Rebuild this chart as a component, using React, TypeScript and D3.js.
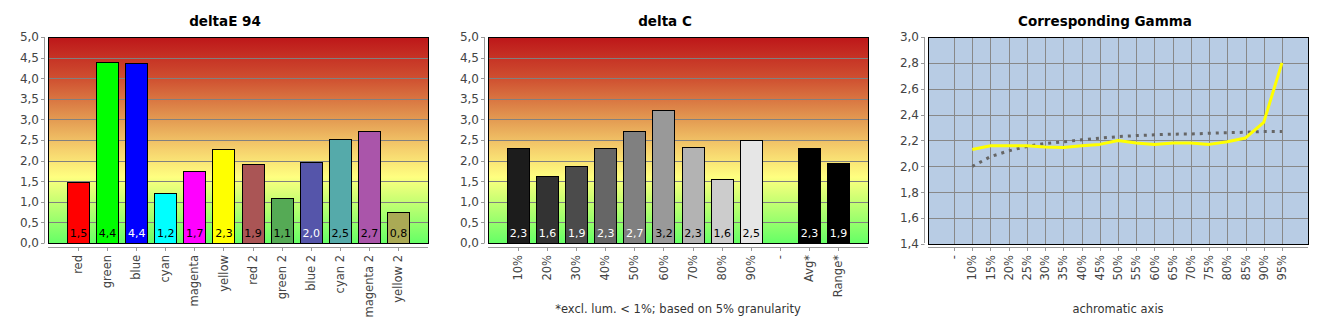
import React from "react";
import * as d3 from "d3";

// ---------- data ----------
const deCategories = ["red", "green", "blue", "cyan", "magenta", "yellow", "red 2", "green 2", "blue 2", "cyan 2", "magenta 2", "yellow 2"];
const deValues = [1.47, 4.39, 4.36, 1.21, 1.74, 2.29, 1.91, 1.09, 1.97, 2.53, 2.71, 0.76];
const deColors = ["#ff0000", "#00ff00", "#0000ff", "#00ffff", "#ff00ff", "#ffff00", "#aa5555", "#55aa55", "#5555aa", "#55aaaa", "#aa55aa", "#aaaa55"];
const deLabelColors = ["#000", "#000", "#fff", "#000", "#000", "#000", "#000", "#000", "#fff", "#000", "#000", "#000"];

const dcCategories = ["10%", "20%", "30%", "40%", "50%", "60%", "70%", "80%", "90%", "-", "Avg*", "Range*"];
const dcValues: (number | null)[] = [2.3, 1.63, 1.86, 2.3, 2.71, 3.24, 2.32, 1.56, 2.49, null, 2.3, 1.94];
const dcColors = ["#1c1c1c", "#333333", "#4b4b4b", "#666666", "#808080", "#999999", "#b3b3b3", "#cccccc", "#e6e6e6", "#000", "#000000", "#000000"];
const dcLabelColors = ["#fff", "#fff", "#fff", "#fff", "#fff", "#000", "#000", "#000", "#000", "#000", "#fff", "#fff"];

const gammaCategories = ["-", "10%", "15%", "20%", "25%", "30%", "35%", "40%", "45%", "50%", "55%", "60%", "65%", "70%", "75%", "80%", "85%", "90%", "95%"];
const gammaMeasured: (number | null)[] = [null, 2.13, 2.16, 2.16, 2.16, 2.15, 2.145, 2.16, 2.17, 2.2, 2.18, 2.17, 2.18, 2.18, 2.17, 2.19, 2.22, 2.34, 2.8];
const gammaReference: (number | null)[] = [null, 2.0, 2.075, 2.12, 2.154, 2.177, 2.19, 2.205, 2.218, 2.23, 2.238, 2.244, 2.249, 2.25, 2.256, 2.26, 2.264, 2.27, 2.27];

const barTicks = [0, 0.5, 1, 1.5, 2, 2.5, 3, 3.5, 4, 4.5, 5];
const gammaTicks = [1.4, 1.6, 1.8, 2.0, 2.2, 2.4, 2.6, 2.8, 3.0];

// ---------- layout ----------
const W = 1330;
const H = 330;
const PL = 48;
const PR = 428;
const PT = 37;
const PB = 243;
const FONT = "'DejaVu Sans', Verdana, sans-serif";
const fmt = (v: number, d: number) => v.toFixed(d).replace(".", ",");

function YAxis({ y, ticks }: { y: d3.ScaleLinear<number, number>; ticks: number[] }) {
  return (
    <g>
      <line x1={44.5} x2={44.5} y1={PT} y2={PB} stroke="#999" />
      {ticks.map((t) => (
        <g key={t}>
          <line x1={41} x2={44.5} y1={Math.round(y(t)) + 0.5} y2={Math.round(y(t)) + 0.5} stroke="#999" />
          <text x={39} y={y(t)} dy="0.36em" textAnchor="end" fontSize={12} fill="#444" fontFamily={FONT}>
            {fmt(t, 1)}
          </text>
        </g>
      ))}
    </g>
  );
}

function XAxis({ x, cats }: { x: d3.ScalePoint<string>; cats: string[] }) {
  return (
    <g>
      <line x1={PL} x2={PR} y1={247.5} y2={247.5} stroke="#999" />
      {cats.map((c) => (
        <g key={c}>
          <line x1={Math.round(x(c)!) + 0.5} x2={Math.round(x(c)!) + 0.5} y1={247.5} y2={251} stroke="#999" />
          <text
            transform={`translate(${x(c)},255) rotate(-90)`}
            dy="0.36em"
            textAnchor="end"
            fontSize={11.5}
            fill="#444"
            fontFamily={FONT}
          >
            {c}
          </text>
        </g>
      ))}
    </g>
  );
}

function BarPanel({
  ox, title, cats, values, colors, labelColors, gradId, footnote,
}: {
  ox: number; title: string; cats: string[]; values: (number | null)[]; colors: string[]; labelColors: string[]; gradId: string; footnote?: string;
}) {
  const x = d3.scalePoint<string>().domain(cats).range([PL, PR]).padding(1.03);
  const y = d3.scaleLinear().domain([0, 5]).range([PB, PT]);
  const bw = 22;
  return (
    <g transform={`translate(${ox},0)`}>
      <text x={225} y={26} textAnchor="middle" fontSize={13.5} fontWeight="bold" fill="#000" fontFamily={FONT}>
        {title}
      </text>
      <rect x={PL} y={PT} width={PR - PL} height={PB - PT} fill={`url(#${gradId})`} />
      {barTicks.slice(1, -1).map((t) => (
        <line key={t} x1={PL} x2={PR} y1={Math.round(y(t)) + 0.5} y2={Math.round(y(t)) + 0.5} stroke="#808080" />
      ))}
      {cats.map((c, i) => {
        const v = values[i];
        if (v == null) return null;
        const cx = x(c)!;
        return (
          <g key={c}>
            <rect x={Math.round(cx - bw / 2) + 0.5} y={Math.round(y(v)) + 0.5} width={bw} height={Math.round(y(0)) - Math.round(y(v))} fill={colors[i]} stroke="#000" />
            <text x={cx + 0.5} y={PB - 6} textAnchor="middle" fontSize={11} fill={labelColors[i]} fontFamily={FONT}>
              {fmt(v, 1)}
            </text>
          </g>
        );
      })}
      <rect x={PL + 0.5} y={PT + 0.5} width={PR - PL} height={PB - PT} fill="none" stroke="#000" />
      <YAxis y={y} ticks={barTicks} />
      <XAxis x={x} cats={cats} />
      {footnote && (
        <text x={238} y={313} textAnchor="middle" fontSize={11.5} fill="#333" fontFamily={FONT}>
          {footnote}
        </text>
      )}
    </g>
  );
}

function GammaPanel({ ox }: { ox: number }) {
  const x = d3.scalePoint<string>().domain(gammaCategories).range([PL, PR]).padding(1.43);
  const y = d3.scaleLinear().domain([1.4, 3.0]).range([PB + 1, PT]);
  const line = d3
    .line<number | null>()
    .defined((d) => d != null)
    .x((_, i) => x(gammaCategories[i])!)
    .y((d) => y(d as number));
  return (
    <g transform={`translate(${ox},0)`}>
      <text x={225} y={26} textAnchor="middle" fontSize={13.5} fontWeight="bold" fill="#000" fontFamily={FONT}>
        Corresponding Gamma
      </text>
      <rect x={PL} y={PT} width={PR - PL} height={PB + 1 - PT} fill="#b8cce4" />
      {gammaTicks.slice(1, -1).map((t) => (
        <line key={t} x1={PL} x2={PR} y1={Math.round(y(t)) + 0.5} y2={Math.round(y(t)) + 0.5} stroke="#888" />
      ))}
      {gammaCategories.map((c) => (
        <line key={c} x1={Math.round(x(c)!) + 0.5} x2={Math.round(x(c)!) + 0.5} y1={PT} y2={PB + 1} stroke="#888" />
      ))}
      <path d={line(gammaReference) || ""} fill="none" stroke="#666" strokeWidth={3} strokeDasharray="3,5" />
      <path d={line(gammaMeasured) || ""} fill="none" stroke="#ffff00" strokeWidth={3} strokeLinejoin="round" />
      <rect x={PL + 0.5} y={PT + 0.5} width={PR - PL} height={PB + 1 - PT} fill="none" stroke="#000" />
      <YAxis y={y} ticks={gammaTicks} />
      <XAxis x={x} cats={gammaCategories} />
      <text x={238} y={313} textAnchor="middle" fontSize={11.5} fill="#333" fontFamily={FONT}>
        achromatic axis
      </text>
    </g>
  );
}

function Gradient({ id }: { id: string }) {
  return (
    <linearGradient id={id} x1="0" y1="0" x2="0" y2="1">
      <stop offset="0" stopColor="#bd1619" />
      <stop offset="0.2" stopColor="#cf4f30" />
      <stop offset="0.4" stopColor="#e39a52" />
      <stop offset="0.55" stopColor="#f6d26e" />
      <stop offset="0.68" stopColor="#ffff80" />
      <stop offset="0.78" stopColor="#cfff74" />
      <stop offset="1" stopColor="#66ff66" />
    </linearGradient>
  );
}

export default function App() {
  return (
    <svg width={W} height={H} style={{ position: "absolute", left: 0, top: 0, background: "#fff" }}>
      <defs>
        <Gradient id="g1" />
        <Gradient id="g2" />
      </defs>
      <rect width={W} height={H} fill="#fff" />
      <BarPanel ox={0} title="deltaE 94" cats={deCategories} values={deValues} colors={deColors} labelColors={deLabelColors} gradId="g1" />
      <BarPanel
        ox={440}
        title="delta C"
        cats={dcCategories}
        values={dcValues}
        colors={dcColors}
        labelColors={dcLabelColors}
        gradId="g2"
        footnote="*excl. lum. < 1%; based on 5% granularity"
      />
      <GammaPanel ox={880} />
    </svg>
  );
}
